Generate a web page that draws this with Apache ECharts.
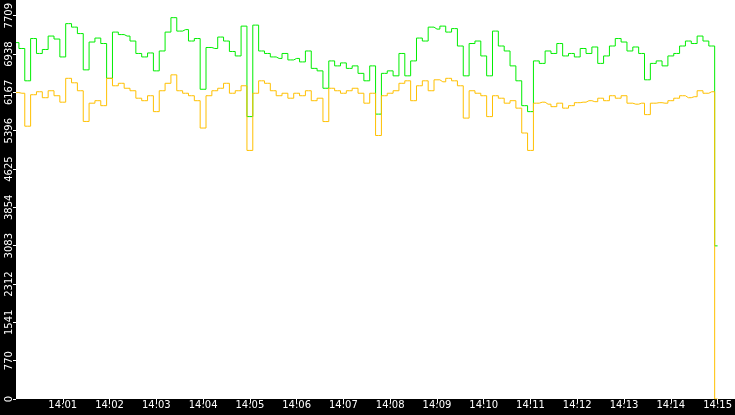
<!DOCTYPE html>
<html><head><meta charset="utf-8">
<script src="https://cdn.jsdelivr.net/npm/echarts@6/dist/echarts.min.js"></script>
<style>html,body{margin:0;padding:0;background:#000}#c{width:735px;height:415px}</style>
</head><body><div id="c"></div>
<script>
const startTime = '2024-01-01T14:00:00';
const stepMs = 7500;
const greenValues = [7168,7050,6400,7250,6950,7030,7300,7240,6880,7550,7480,7350,6620,7180,7260,7150,6450,7380,7330,7300,7200,6950,6880,6960,6600,7000,7380,7670,7400,7430,7200,7250,6230,7070,7050,7280,7200,6990,6900,7500,5680,7520,7000,6950,6880,6850,6950,6820,6850,6780,7000,6650,6600,6250,6800,6700,6760,6650,6700,6550,6400,6700,5730,6550,6600,6500,6950,6500,6800,7260,7200,7480,7440,7500,7380,7450,7100,6500,7150,7200,6900,6500,7400,7100,7000,6700,6400,5900,5780,6800,6750,7000,6950,7150,6900,6950,6880,7050,6950,7080,6750,6900,7100,7250,7180,7000,7080,6950,6420,6750,6800,6700,6900,6950,7100,7200,7150,7300,7200,7100,3080];
const orangeValues = [6163,6150,5487,6120,6180,6060,6200,6100,5970,6450,6360,6200,5583,5950,6000,5900,6450,6300,6350,6250,6200,6050,6000,6100,5780,6200,6350,6520,6200,6150,6100,6000,5450,6100,6200,6250,6350,6150,6200,6300,5000,6150,6400,6350,6200,6100,6150,6050,6150,6100,6200,6000,6050,5580,6250,6200,6150,6200,6250,6150,5950,6150,5300,6100,6150,6200,6350,6400,6000,6300,6400,6200,6420,6380,6450,6400,6300,5650,6200,6150,6100,5680,6100,6050,5950,6000,5850,5350,5000,5950,5970,5930,5880,5950,5850,5900,5960,5970,6000,5980,6050,6000,6100,6050,6100,5950,5930,5950,5720,5950,5960,5950,6000,6050,6100,6060,6080,6200,6150,6180,0];
const yMax = 7709;
const yInterval = 770.9;

const t0 = new Date(startTime).getTime();
const mk = v => v.map((y,i)=>[t0+i*stepMs,y]);
const chart = echarts.init(document.getElementById('c'));
chart.setOption({
  backgroundColor:'#000',
  animation:false,
  grid:{left:16,right:0,top:0,bottom:16},
  xAxis:{type:'value',min:t0,max:t0+900000,interval:60000,
    axisLine:{show:false},
    axisTick:{show:true,length:4,lineStyle:{color:'#fff'}},
    splitLine:{show:false},
    axisLabel:{color:'#fff',fontFamily:'DejaVu Sans',fontSize:10,margin:1,showMinLabel:false,
      formatter:v=>{const d=new Date(v);return String(d.getHours()).padStart(2,'0')+':'+String(d.getMinutes()).padStart(2,'0');}}},
  yAxis:{type:'value',min:0,max:yMax,interval:yInterval,
    axisLine:{show:false},
    axisTick:{show:true,length:3,lineStyle:{color:'#fff'}},
    splitLine:{show:false},
    axisLabel:{color:'#fff',fontFamily:'DejaVu Sans',fontSize:10,rotate:90,margin:2,
      formatter:v=>String(Math.floor(v+0.01))}},
  series:[
    {type:'line',step:'middle',data:mk(greenValues),symbol:'none',lineStyle:{color:'#00ee00',width:1},z:2},
    {type:'line',step:'middle',data:mk(orangeValues),symbol:'none',lineStyle:{color:'#ffc000',width:1},z:3}
  ],
  graphic:[{type:'rect',shape:{x:16,y:0,width:719,height:399},style:{fill:'#fff'},z:-1,silent:true}]
});
</script></body></html>
